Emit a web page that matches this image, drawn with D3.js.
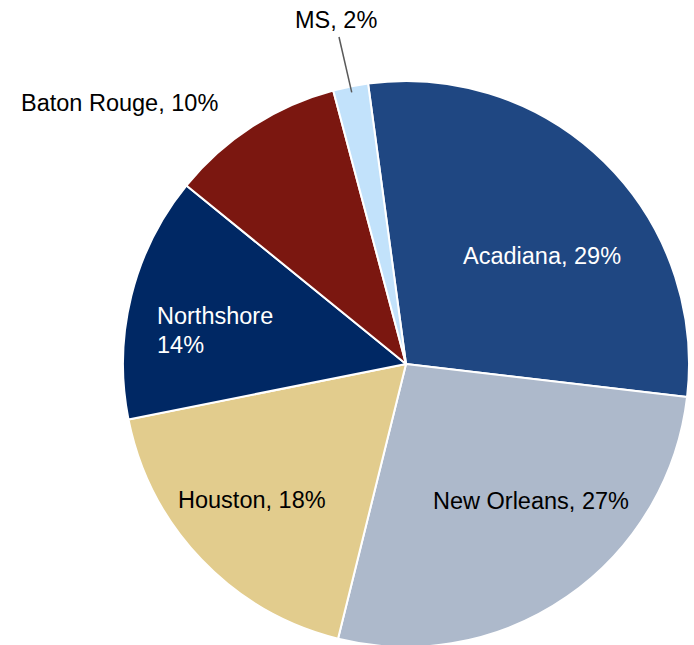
<!DOCTYPE html>
<html><head><meta charset="utf-8">
<script src="https://cdn.jsdelivr.net/npm/d3@7"></script>
<style>html,body{margin:0;padding:0;background:#fff;}svg{display:block;}</style>
</head><body>
<script>
const categories = ["Acadiana", "New Orleans", "Houston", "Northshore", "Baton Rouge", "MS"];
const values = [29, 27, 18, 14, 10, 2];
const colors = ["#1F4782", "#ADB9CB", "#E2CC8D", "#002864", "#7B1710", "#C2E2FB"];

const W = 694, H = 645, cx = 406, cy = 364, R = 283;
const svg = d3.select("body").append("svg").attr("width", W).attr("height", H);
const start = -7.7 * Math.PI / 180;
const pie = d3.pie().sort(null).startAngle(start).endAngle(start + 2 * Math.PI);
const arcs = pie(values);
const arc = d3.arc().innerRadius(0).outerRadius(R);
const g = svg.append("g").attr("transform", `translate(${cx},${cy})`);
g.selectAll("path").data(arcs).join("path")
  .attr("d", arc).attr("fill", (d, i) => colors[i])
  .attr("stroke", "#fff").attr("stroke-width", 2).attr("stroke-linejoin", "round");

// label layout (pixel positions of labels)
const labelPos = [
  {x: 463, y: 264, fill: "#fff", lines: d => [`${d.c}, ${d.v}%`]},
  {x: 433, y: 509, fill: "#000", lines: d => [`${d.c}, ${d.v}%`]},
  {x: 178, y: 508, fill: "#000", lines: d => [`${d.c}, ${d.v}%`]},
  {x: 157, y: 324, fill: "#fff", lines: d => [d.c, `${d.v}%`]},
  {x: 21, y: 111, fill: "#000", lines: d => [`${d.c}, ${d.v}%`]},
  {x: 295, y: 28, fill: "#000", lines: d => [`${d.c}, ${d.v}%`]}
];
// leader line for MS
const ms = arcs[5];
const mid = (ms.startAngle + ms.endAngle) / 2;
const px = Math.sin(mid) * (R - 6), py = -Math.cos(mid) * (R - 6);
g.append("line").attr("x1", px).attr("y1", py)
  .attr("x2", 339 - cx).attr("y2", 37 - cy)
  .attr("stroke", "#595959").attr("stroke-width", 1.5);

categories.forEach((c, i) => {
  const L = labelPos[i];
  const t = svg.append("text").attr("x", L.x).attr("y", L.y)
    .attr("font-family", "Liberation Sans, Arial, sans-serif")
    .attr("font-size", 23.5).attr("fill", L.fill);
  L.lines({c, v: values[i]}).forEach((s, k) => {
    t.append("tspan").attr("x", L.x).attr("dy", k === 0 ? 0 : 29).text(s);
  });
});
</script>
</body></html>
